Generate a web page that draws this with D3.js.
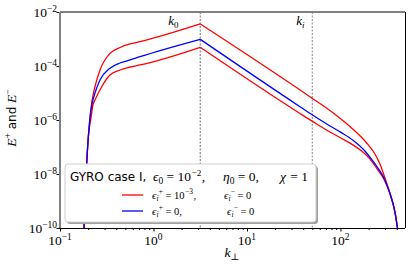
<!DOCTYPE html>
<html><head><meta charset="utf-8">
<script src="https://cdn.jsdelivr.net/npm/d3@7"></script>
<style>html,body{margin:0;padding:0;background:#fff;}svg{display:block;}</style>
</head><body><svg id="c" width="416" height="271"></svg>
<script>
// ---------- data ----------
const xTickExps = [-1, 0, 1, 2];
const yTickExps = [-10, -8, -6, -4, -2];
const markerK = [3.162, 50];
const markerLabels = ["0", "i"];
const seriesNames = ["eps_plus_1e-3", "eps_zero"];
const redUpper = [[0.1806,1e-10],[0.1930,2.55e-8],[0.2017,2.78e-7],[0.2094,1.19e-6],[0.2183,4.26e-6],[0.2367,1.71e-5],[0.2679,7.11e-5],[0.3425,2.95e-4],[0.4383,4.84e-4],[0.5607,6.53e-4],[0.7171,7.94e-4],[3.162,3.6e-3],[50,6.3e-6],[83.8,1.82e-6],[137,4.45e-7],[190.6,1.41e-7],[233.8,5.51e-8],[264.4,2.35e-8],[291.7,9.18e-9],[322,3.3e-9],[355.5,1.09e-9],[382.6,3.9e-10],[407.4,1e-10]];
const redLower = [[0.1806,1e-10],[0.1930,2.55e-8],[0.2017,2.78e-7],[0.2146,1.19e-6],[0.2254,3.6e-6],[0.2367,5.5e-6],[0.2793,1.71e-5],[0.3425,4.64e-5],[0.4383,7.11e-5],[0.5607,9.18e-5],[0.7171,1.09e-4],[3.162,4.93e-4],[36.9,1.74e-6],[51.2,8.5e-7],[70,4.37e-7],[100,2.19e-7],[137,1.17e-7],[170,6.9e-8],[207,3.55e-8],[245.6,1.58e-8],[291.7,6.46e-9],[322,3.03e-9],[355.5,1.09e-9],[382.6,3.9e-10],[407.4,1e-10]];
const blue = [[0.1806,1e-10],[0.1930,2.55e-8],[0.2017,2.78e-7],[0.2120,1.82e-6],[0.2227,4.64e-6],[0.2367,1e-5],[0.2679,3.03e-5],[0.3425,8.22e-5],[0.4383,1.29e-4],[0.5607,1.67e-4],[0.7171,2.21e-4],[3.162,9.75e-4],[36.9,3.11e-6],[51.2,1.47e-6],[70,7.41e-7],[100,3.55e-7],[137,1.74e-7],[182.8,7.08e-8],[217.5,3.31e-8],[251.7,1.66e-8],[291.7,7.08e-9],[322,3.03e-9],[355.5,1.09e-9],[382.6,3.9e-10],[407.4,1e-10]];

// ---------- layout ----------
const L = 60, R = 405, T = 12, B = 228;
const svg = d3.select("#c");
const x = d3.scaleLog().domain([0.1, 490]).range([L, R]);
const y = d3.scaleLog().domain([1e-10, 1e-2]).range([B, T]);
const serif = "'Liberation Serif','DejaVu Serif',serif";
const sans = "'DejaVu Sans',sans-serif";

// vertical markers
markerK.forEach((k, i) => {
  svg.append("line").attr("x1", x(k)).attr("x2", x(k)).attr("y1", T).attr("y2", B)
    .attr("stroke", i === 0 ? "#444" : "#999").attr("stroke-width", i === 0 ? 0.8 : 1.2)
    .attr("stroke-dasharray", "2,1.5");
  const t = svg.append("text").attr("x", x(k) - (i === 0 ? 32 : 16)).attr("y", 25)
    .attr("font-family", serif).attr("font-size", 13);
  t.append("tspan").attr("font-style", "italic").text("k");
  t.append("tspan").attr("font-size", 9).attr("dy", 3).attr("font-style", i === 0 ? "normal" : "italic").text(markerLabels[i]);
});

// curves
const line = d3.line().x(d => x(d[0])).y(d => y(d[1])).curve(d3.curveMonotoneX);
function drawSeries(data, color) {
  const kp = markerK[0];
  const up = data.filter(d => d[0] <= kp), down = data.filter(d => d[0] >= kp);
  [up, down].forEach(seg => svg.append("path").attr("d", line(seg)).attr("fill", "none")
    .attr("stroke", color).attr("stroke-width", 1.3));
}
drawSeries(redUpper, "#ff0000");
drawSeries(redLower, "#ff0000");
drawSeries(blue, "#0000ff");

// axes ticks
const xMinor = [];
for (let e = -1; e <= 2; e++) for (let m = 2; m <= 9; m++) { const v = m * Math.pow(10, e); if (v < 490) xMinor.push(v); }
svg.append("g").attr("transform", `translate(0,${B})`)
  .call(d3.axisBottom(x).tickValues(xMinor).tickSize(2).tickFormat("")).call(g => g.select(".domain").remove());
svg.append("g").attr("transform", `translate(0,${B})`)
  .call(d3.axisBottom(x).tickValues(xTickExps.map(e => Math.pow(10, e))).tickSize(3.5).tickFormat("")).call(g => g.select(".domain").remove());
svg.append("g").attr("transform", `translate(${L},0)`)
  .call(d3.axisLeft(y).tickValues(yTickExps.map(e => Math.pow(10, e))).tickSize(3.5).tickFormat("")).call(g => g.select(".domain").remove());

// tick labels
xTickExps.forEach(e => {
  const t = svg.append("text").attr("x", x(Math.pow(10, e))).attr("y", 245).attr("text-anchor", "middle")
    .attr("font-family", serif).attr("font-size", 13.5);
  t.append("tspan").text("10");
  t.append("tspan").attr("dy", -5.5).attr("font-size", 9.5).text(String(e).replace("-", "\u2212"));
});
yTickExps.forEach(e => {
  const t = svg.append("text").attr("x", 57).attr("y", y(Math.pow(10, e)) + 5).attr("text-anchor", "end")
    .attr("font-family", serif).attr("font-size", 13.5);
  t.append("tspan").text("10");
  t.append("tspan").attr("dy", -5.5).attr("font-size", 9.5).text(String(e).replace("-", "\u2212"));
});

// spines
svg.append("line").attr("x1", L).attr("x2", L).attr("y1", T).attr("y2", B).attr("stroke", "#808080").attr("stroke-width", 2);
svg.append("line").attr("x1", L).attr("x2", R).attr("y1", T).attr("y2", T).attr("stroke", "#808080").attr("stroke-width", 2);
svg.append("line").attr("x1", R + 0.5).attr("x2", R + 0.5).attr("y1", T).attr("y2", B).attr("stroke", "#000").attr("stroke-width", 1);
svg.append("line").attr("x1", L).attr("x2", R).attr("y1", B + 0.5).attr("y2", B + 0.5).attr("stroke", "#000").attr("stroke-width", 1.2);

// axis labels
{
  const t = svg.append("text").attr("x", 232).attr("y", 257).attr("text-anchor", "middle")
    .attr("font-family", serif).attr("font-size", 13.5);
  t.append("tspan").attr("font-style", "italic").text("k");
  t.append("tspan").attr("font-size", 9.5).attr("dy", 3).text("\u22a5");
}
{
  const t = svg.append("text").attr("transform", "translate(16,118) rotate(-90)").attr("text-anchor", "middle")
    .attr("font-size", 12);
  t.append("tspan").attr("font-family", serif).attr("font-style", "italic").attr("font-size", 13.5).text("E");
  t.append("tspan").attr("font-family", serif).attr("font-size", 9.5).attr("dy", -5).text("+");
  t.append("tspan").attr("font-family", sans).attr("dy", 5).text(" and ");
  t.append("tspan").attr("font-family", serif).attr("font-style", "italic").attr("font-size", 13.5).text("E");
  t.append("tspan").attr("font-family", serif).attr("font-size", 9.5).attr("dy", -5).text("\u2212");
}

// legend
const lg = svg.append("g");
lg.append("rect").attr("x", 67).attr("y", 166).attr("width", 251).attr("height", 58).attr("rx", 3).attr("fill", "#a0a0a0");
lg.append("rect").attr("x", 65).attr("y", 164).attr("width", 251).attr("height", 58).attr("rx", 3)
  .attr("fill", "#fff").attr("stroke", "#d0d0d0").attr("stroke-width", 1);

function mathText(x0, yb, size, runs) {
  // runs: [text, dx, dy (relative), sizeFactor, italic]
  const t = svg.append("text").attr("x", x0).attr("y", yb).attr("font-family", serif).attr("font-size", size);
  runs.forEach(r => {
    t.append("tspan").attr("dx", r[1]).attr("dy", r[2]).attr("font-size", size * r[3])
      .attr("font-style", r[4] ? "italic" : "normal").text(r[0]);
  });
}
svg.append("text").attr("x", 70).attr("y", 181).attr("font-family", sans).attr("font-size", 12).text("GYRO case I,");
mathText(153, 181, 13.5, [["\u03f5", 0, 0, 1, true], ["0", 0, 3, 0.7, false], [" = 10", 0, -3, 1, false], ["\u22122", 0.5, -5.5, 0.68, false], [",", 0.5, 5.5, 1, false]]);
mathText(223, 181, 13.5, [["\u03b7", 0, 0, 1, true], ["0", 0, 3, 0.7, false], [" = 0,", 0, -3, 1, false]]);
mathText(280, 181, 13.5, [["\u03c7", 0, 0, 1, true], [" = 1", 1, 0, 1, false]]);

const entryColors = ["#ff0000", "#0000ff"];
const entryPlus = [" = 10", " = 0,"];
const fs = 10.5;
seriesNames.forEach((n, i) => {
  const yy = 195 + i * 16;
  svg.append("line").attr("x1", 122).attr("x2", 143).attr("y1", yy).attr("y2", yy)
    .attr("stroke", entryColors[i]).attr("stroke-width", 1.3);
  const runs = [["\u03f5", 0, 0, 1, true], ["i", 0.3, 2.5, 0.7, true], ["+", 0.2, -7, 0.7, false], [entryPlus[i], 0, 4.5, 1, false]];
  if (i === 0) { runs.push(["\u22123", 0.5, -4.5, 0.7, false]); runs.push([",", 0.5, 4.5, 1, false]); }
  mathText(152, yy + 3.5, fs, runs);
  mathText(i === 0 ? 224 : 227, yy + 3.5, fs, [["\u03f5", 0, 0, 1, true], ["i", 0.3, 2.5, 0.7, true], ["\u2212", 0.2, -7, 0.7, false], [" = 0", 0, 4.5, 1, false]]);
});
</script></body></html>
